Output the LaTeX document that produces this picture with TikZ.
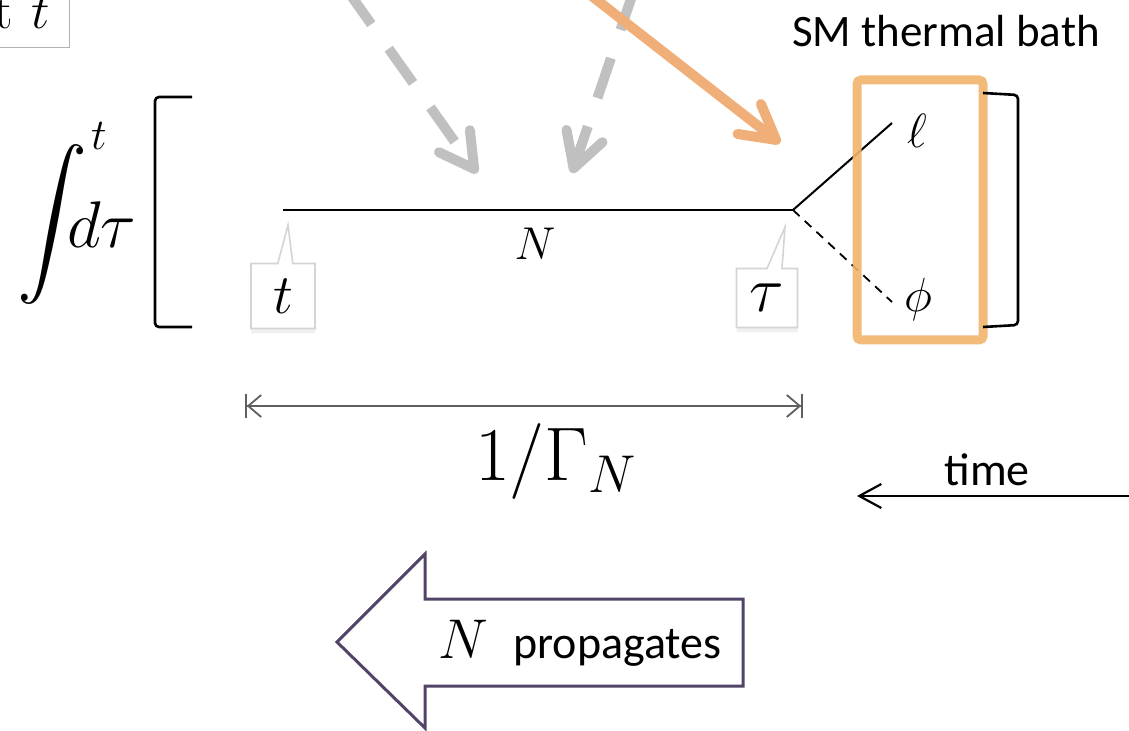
\RequirePackage{fix-cm}
\documentclass[tikz,border=0pt]{standalone}
\usepackage{graphicx}
\usepackage{fontspec}
\newfontfamily\calibri{Carlito}
\usetikzlibrary{arrows.meta,shapes.callouts,shadows}

\definecolor{bathorange}{RGB}{241,180,108}
\definecolor{arroworange}{RGB}{240,174,120}
\definecolor{hintgray}{RGB}{192,192,192}
\definecolor{dimgray}{RGB}{95,95,95}
\definecolor{propviolet}{RGB}{82,68,104}

\tikzset{
  sz/.style={font=\fontsize{#1}{#1}\selectfont},
  txt/.style={font=\calibri\fontsize{#1}{#1}\selectfont},
  hint/.style={hintgray, line width=5pt, dash pattern=on 21pt off 15pt,
    -{Straight Barb[length=17pt,width=19pt,round]}},
  sourceline/.style={arroworange, line width=5pt,
    -{Straight Barb[length=17pt,width=19pt,round]}},
  callbox/.style={rectangle callout, draw=black!17, line width=0.8pt, fill=white,
    callout pointer width=7.5pt, sz=28,
    drop shadow={shadow xshift=0pt, shadow yshift=-2.5pt, opacity=0.12}},
  bathbox/.style={draw=bathorange, line width=4.5pt, rounded corners=2pt,
    draw opacity=0.9, minimum width=63pt, minimum height=130pt},
  brk/.style={line width=1.3pt, rounded corners=2pt},
  dimline/.style={dimgray, line width=0.9pt,
    {Bar[width=12pt]Straight Barb[length=6.5pt,width=11pt,sep=0pt]}-{Straight Barb[length=6.5pt,width=11pt,sep=0pt]Bar[width=12pt]}},
  timearr/.style={line width=1.1pt, -{Straight Barb[length=11pt,width=12pt]}},
  bigarrow/.style={draw=propviolet, line width=1.5pt, line join=miter},
}

\begin{document}
\begin{tikzpicture}[x=0.5pt,y=-0.5pt, every node/.style={inner sep=0pt}]
    \useasboundingbox (0,0) rectangle (1129,731);
    \clip (0,0) rectangle (1129,731);

    % label box cut by the top left corner
    \node[sz=26, draw=black!30, line width=0.6pt, anchor=south east,
      inner xsep=10pt, inner ysep=9pt] (tbox) at (70,48) {t\hspace{9pt}$t$};

    % incoming hints
    \coordinate (hintA) at (347,-10);
    \coordinate (hintB) at (634,-10);
    \coordinate (hitA) at (477,173);
    \coordinate (hitB) at (572,173);
    \foreach \from/\to in {hintA/hitA, hintB/hitB}
        \draw[hint] (\from) -- (\to);
    \coordinate (src) at (584,-10);
    \coordinate (hitC) at (780,143);
    \draw[sourceline] (src) -- (hitC);

    % the integral and its bracket
    \node[anchor=west] (intsign) at (17,225) {\scalebox{3.5}[3.6]{$\displaystyle\int$}};
    \node[sz=22] (intup) at (99,136) {$t$};
    \node[sz=33, anchor=base west] (dtau) at (67,248) {$d\tau$};
    \draw[brk] (192,97) -- (155,97) -- (155,327) -- (192,327);

    % N line and its decay
    \coordinate (nstart) at (283,210);
    \coordinate (vtx) at (793,210);
    \draw[line width=1pt] (nstart) -- (vtx);
    \node[sz=23] (nlab) at (535,244) {$N$};
    \coordinate (lend) at (892,123);
    \coordinate (phend) at (892,302);
    \draw[line width=1pt] (vtx) -- (lend);
    \draw[line width=0.9pt, dash pattern=on 4.5pt off 3.5pt] (vtx) -- (phend);
    \node[sz=24] (lep) at (917,131) {$\ell$};
    \node[sz=24] (phi) at (918,300) {$\phi$};

    % callouts
    \node[callbox, minimum width=32pt, minimum height=32.5pt,
      callout absolute pointer={(288,225)}] (tcall) at (283,296) {$t$};
    \node[callbox, sz=32, minimum width=30.5pt, minimum height=29.5pt,
      callout absolute pointer={(785,227)}] (taucall) at (767,298) {$\tau$};

    % thermal bath
    \node[bathbox] (bath) at (920,210) {};
    \node[txt=22.5] (bathlab) at (946,31) {SM thermal bath};
    \draw[brk] (983,93) -- (1018,95) -- (1018,325) -- (983,327);

    % lifetime
    \coordinate (dl) at (245,406);
    \coordinate (dr) at (803,406);
    \draw[dimline] (dl) -- (dr);
    \node[sz=38] (life) at (556,462) {$1/\Gamma_N$};

    % time direction
    \coordinate (tfrom) at (1140,496);
    \coordinate (tto) at (857,496);
    \draw[timearr] (tfrom) -- (tto);
    \node[txt=23] (timelab) at (987,470) {time};

    % propagation arrow
    \draw[bigarrow] (337,642) -- (425,554) -- (425,599) -- (743,599)
        -- (743,686) -- (425,686) -- (425,728) -- cycle;
    \node[sz=28, anchor=base] (nprop) at (463,658) {$N$};
    \node[txt=23, anchor=base west] (proplab) at (513,658) {propagates};
\end{tikzpicture}
\end{document}
